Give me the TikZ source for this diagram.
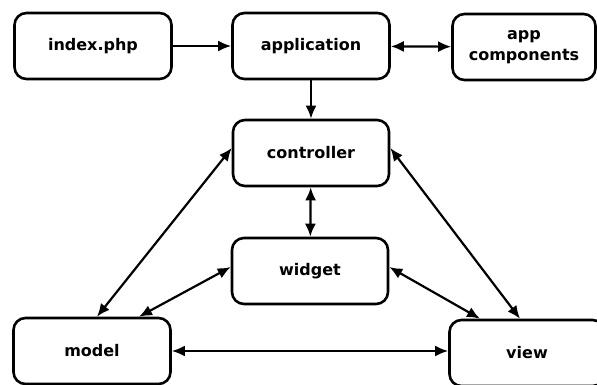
\documentclass[tikz,border=0pt]{standalone}
\usepackage{fontspec}
\setmainfont{DejaVu Sans}
\usetikzlibrary{arrows.meta}
\begin{document}
\begin{tikzpicture}[x=1pt,y=-1pt,
  box/.style={draw, line width=2.6pt, rounded corners=12pt, fill=white,
    minimum width=#1, minimum height=66pt, inner sep=0pt, align=center,
    font=\bfseries\fontsize{16}{18}\selectfont},
  box/.default=157pt,
  link/.style={line width=2.2pt, {Latex[length=13pt,width=11pt]}-{Latex[length=13pt,width=11pt]}},
  onelink/.style={line width=2.2pt, -{Latex[length=13pt,width=11pt]}}]
\clip (0,0) rectangle (597,384);
\fill[white] (0,0) rectangle (597,384);

% boxes
\node[box] (index) at (93,46) {index.php};
\node[box] (app) at (311,46) {application};
\node[box=143pt] (comp) at (524,47) {app\\[3pt]components};
\node[box=156pt] (ctrl) at (311,153) {controller};
\node[box=156pt] (widget) at (310,271) {widget};
\node[box] (model) at (92,351) {model};
\node[box=155pt] (view) at (527,353) {view};

% connectors
\draw[onelink] (index) -- (app);
\draw[link] (app) -- (comp);
\draw[onelink] (app) -- (ctrl);
\draw[link] (ctrl) -- (widget);
\draw[link] ([yshift=5pt]ctrl.west) -- ([xshift=5pt]model.north);
\draw[link] ([yshift=4pt]widget.west) -- ([xshift=47pt]model.north);
\draw[link] ([yshift=5pt]ctrl.east) -- ([xshift=-7pt]view.north);
\draw[link] ([yshift=4pt]widget.east) -- ([xshift=-47pt]view.north);
\draw[link] (model) -- (view.west |- model.east);
\end{tikzpicture}
\end{document}
